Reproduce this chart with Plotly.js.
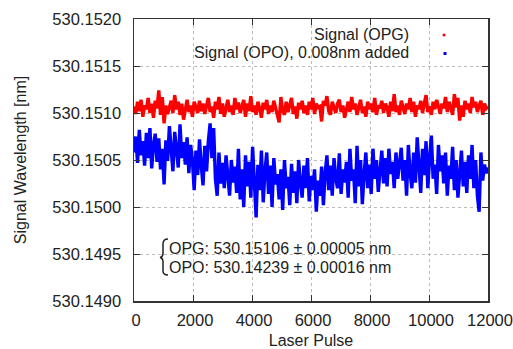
<!DOCTYPE html>
<html>
<head>
<meta charset="utf-8">
<script src="https://cdn.plot.ly/plotly-3.0.1.min.js"></script>
<style>
  html, body { margin: 0; padding: 0; background: #fff; }
  #chart { width: 513px; height: 349px; }
</style>
</head>
<body>
<div id="chart"></div>
<script>
// ---- data ----
const pulseStep = 60;   // laser pulses between plotted samples
const pulseCount = 201;
const opgLabel = "Signal (OPG)";
const opoLabel = "Signal (OPO), 0.008nm added";
const statsLines = ["OPG: 530.15106\u00a0\u00b1\u00a00.00005 nm", "OPO: 530.14239\u00a0\u00b1\u00a00.00016 nm"];
const xTicks = [0, 2000, 4000, 6000, 8000, 10000, 12000];
const yTicks = [530.1490, 530.1495, 530.1500, 530.1505, 530.1510, 530.1515, 530.1520];

const opgSignal = [
530.15107,530.15099,530.15112,530.15102,530.15114,530.15096,530.15108,530.15104,530.15116,530.15100,530.15110,530.15095,530.15113,530.15105,530.15124,530.15098,530.15117,530.15089,530.15108,530.15099,
530.15106,530.15113,530.15100,530.15119,530.15104,530.15112,530.15098,530.15110,530.15093,530.15105,530.15114,530.15101,530.15108,530.15096,530.15112,530.15106,530.15100,530.15113,530.15102,530.15110,
530.15099,530.15108,530.15116,530.15101,530.15107,530.15095,530.15112,530.15104,530.15117,530.15099,530.15110,530.15096,530.15106,530.15114,530.15101,530.15108,530.15098,530.15116,530.15104,530.15111,
530.15100,530.15107,530.15114,530.15096,530.15110,530.15102,530.15118,530.15101,530.15108,530.15098,530.15112,530.15105,530.15095,530.15111,530.15104,530.15114,530.15099,530.15108,530.15101,530.15113,
530.15106,530.15096,530.15090,530.15117,530.15102,530.15098,530.15112,530.15101,530.15108,530.15116,530.15099,530.15107,530.15094,530.15111,530.15104,530.15113,530.15100,530.15108,530.15098,530.15112,
530.15104,530.15116,530.15099,530.15110,530.15106,530.15107,530.15091,530.15113,530.15108,530.15118,530.15102,530.15098,530.15112,530.15105,530.15100,530.15110,530.15114,530.15101,530.15108,530.15095,
530.15106,530.15112,530.15101,530.15117,530.15104,530.15110,530.15098,530.15108,530.15114,530.15100,530.15107,530.15096,530.15112,530.15104,530.15110,530.15101,530.15116,530.15098,530.15108,530.15105,
530.15113,530.15100,530.15110,530.15106,530.15096,530.15112,530.15102,530.15120,530.15101,530.15108,530.15098,530.15113,530.15106,530.15099,530.15110,530.15104,530.15116,530.15101,530.15112,530.15096,
530.15108,530.15104,530.15113,530.15100,530.15110,530.15119,530.15101,530.15107,530.15098,530.15112,530.15104,530.15114,530.15107,530.15099,530.15110,530.15105,530.15117,530.15101,530.15112,530.15104,
530.15098,530.15120,530.15106,530.15116,530.15092,530.15108,530.15096,530.15113,530.15104,530.15110,530.15100,530.15117,530.15106,530.15112,530.15101,530.15108,530.15113,530.15098,530.15110,530.15105,
530.15107
];

const opoSignalShifted = [
530.15058,530.15075,530.15047,530.15082,530.15055,530.15070,530.15044,
530.15079,530.15052,530.15084,530.15041,
530.15066,530.15078,530.15048,530.15073,530.15040,530.15062,530.15024,
530.15071,530.15049,530.15086,530.15057,530.15038,530.15080,530.15063,530.15042,530.15088,530.15052,530.15069,
530.15045,530.15074,530.15036,530.15066,530.15050,530.15018,
530.15060,530.15034,530.15072,530.15044,530.15023,530.15065,530.15038,530.15070,
530.15089,530.15052,530.15084,
530.15030,530.15012,530.15058,530.15025,530.15047,
530.15020,530.15055,530.15032,530.15012,530.15050,530.15026,530.15043,
530.15015,530.15062,530.15008,530.15040,530.15000,530.15055,530.15022,530.15048,
530.15010,530.15064,530.15030,530.14989,530.15045,530.15018,530.15060,
530.15005,530.15038,530.15058,530.15014,530.15044,530.15000,530.15052,530.15024,530.15035,530.15008,
530.15040,530.14997,530.15050,530.15020,530.15032,530.15002,530.15046,
530.15015,530.15038,530.15004,530.15050,530.15026,530.15010,530.15044,530.15020,530.15052,530.15006,530.15033,530.15018,
530.15040,530.14995,530.15028,530.15012,530.15043,530.15002,
530.15036,530.15055,530.15018,530.15044,530.15012,530.15052,530.15030,530.15020,530.15057,530.15014,530.15040,530.15026,
530.15048,530.15010,530.15062,530.15028,530.15040,530.15004,530.15065,530.15022,530.15050,530.15003,530.15035,
530.15058,530.15020,530.15045,530.15014,530.15062,530.15030,530.15050,530.15016,530.15040,530.15060,530.15025,
530.15052,530.15022,530.15062,530.15035,530.15048,530.15020,530.15058,530.15030,530.15044,530.15063,530.15028,
530.15050,530.15012,530.15066,530.15036,530.15020,
530.15058,530.15026,530.15074,530.15040,530.15015,530.15062,530.15034,530.15070,530.15020,530.15052,530.15076,530.15030,530.15045,530.15014,530.15066,530.15038,530.15055,
530.15025,530.15058,530.15012,530.15044,530.15030,530.15064,530.15018,530.15050,530.15010,530.15040,530.15060,530.15022,530.15048,530.15015,530.15055,
530.15030,530.15066,530.15020,530.15050,530.15012,530.14995,530.15058,530.15028,
530.15045,530.15036,530.15042
];

const pulses = [];
for (let i = 0; i < pulseCount; i++) pulses.push(i * pulseStep);

// ---- layout helpers (pixel -> paper) ----
const W = 513, H = 349;
const M = { l: 134, r: 25, t: 19, b: 48 };
const PW = W - M.l - M.r, PH = H - M.t - M.b;
const px = x => (x - M.l) / PW;
const py = y => 1 - (y - M.t) / PH;

const font = "Liberation Sans, Arial, sans-serif";
const textColor = "#222";

const traces = [
  { x: pulses, y: opoSignalShifted, type: "scatter", mode: "lines", name: opoLabel,
    line: { color: "#0000ff", width: 3.4 }, hoverinfo: "skip" },
  { x: pulses, y: opgSignal, type: "scatter", mode: "lines", name: opgLabel,
    line: { color: "#ff0000", width: 3.4 }, hoverinfo: "skip" }
];

// brace path
function P(x, y) { return px(x).toFixed(5) + "," + py(y).toFixed(5); }
const bracePath = "M" + P(168, 239) + " Q" + P(163, 239) + " " + P(163, 244) +
  " L" + P(163, 253) + " Q" + P(163, 257) + " " + P(160, 257.5) +
  " Q" + P(163, 258) + " " + P(163, 262) +
  " L" + P(163, 271) + " Q" + P(163, 275) + " " + P(168, 275);

const layout = {
  width: W, height: H,
  margin: M,
  paper_bgcolor: "#fff", plot_bgcolor: "#fff",
  showlegend: false,
  font: { family: font, size: 16, color: textColor },
  xaxis: {
    range: [0, 12000], tickvals: xTicks, ticktext: xTicks.map(String),
    ticks: "inside", ticklen: 6, tickcolor: "#333", tickwidth: 1,
    showline: true, linecolor: "#333", linewidth: 1.5, mirror: "ticks",
    showgrid: true, gridcolor: "#bbbbbb", gridwidth: 1, griddash: "dot",
    zeroline: false, tickfont: { family: font, size: 16.5, color: textColor },
    ticklabelstandoff: 4, ticklabelshift: 2,
    title: { text: "Laser Pulse", font: { family: font, size: 16, color: textColor }, standoff: 14 }
  },
  yaxis: {
    range: [530.1490, 530.1520], tickvals: yTicks, tickformat: ".4f",
    ticks: "inside", ticklen: 6, tickcolor: "#333", tickwidth: 1,
    showline: true, linecolor: "#333", linewidth: 1.5, mirror: "ticks",
    showgrid: true, gridcolor: "#bbbbbb", gridwidth: 1, griddash: "dot",
    zeroline: false, tickfont: { family: font, size: 16.5, color: textColor },
    ticklabelstandoff: 8,
    title: { text: "Signal Wavelength [nm]", font: { family: font, size: 16, color: textColor }, standoff: 22 }
  },
  annotations: [
    { xref: "paper", yref: "paper", x: px(411), y: py(35), xanchor: "right", yanchor: "middle",
      text: opgLabel, showarrow: false, font: { family: font, size: 16, color: textColor } },
    { xref: "paper", yref: "paper", x: px(411), y: py(53), xanchor: "right", yanchor: "middle",
      text: opoLabel, showarrow: false, font: { family: font, size: 16, color: textColor } },
    { xref: "paper", yref: "paper", x: px(167), y: py(248), xanchor: "left", yanchor: "middle",
      text: statsLines[0], showarrow: false, font: { family: font, size: 16, color: textColor } },
    { xref: "paper", yref: "paper", x: px(167), y: py(267), xanchor: "left", yanchor: "middle",
      text: statsLines[1], showarrow: false, font: { family: font, size: 16, color: textColor } }
  ],
  shapes: [
    { type: "circle", xref: "paper", yref: "paper", x0: px(442.5), x1: px(445.5), y0: py(33.5), y1: py(36.5),
      fillcolor: "#ff0000", line: { width: 0 } },
    { type: "rect", xref: "paper", yref: "paper", x0: px(443.5), x1: px(446.5), y0: py(52), y1: py(55),
      fillcolor: "#0000ff", line: { width: 0 } },
    { type: "path", xref: "paper", yref: "paper", path: bracePath,
      line: { color: "#222", width: 1.5 } }
  ]
};

Plotly.newPlot("chart", traces, layout, { staticPlot: true, displayModeBar: false });
</script>
</body>
</html>
